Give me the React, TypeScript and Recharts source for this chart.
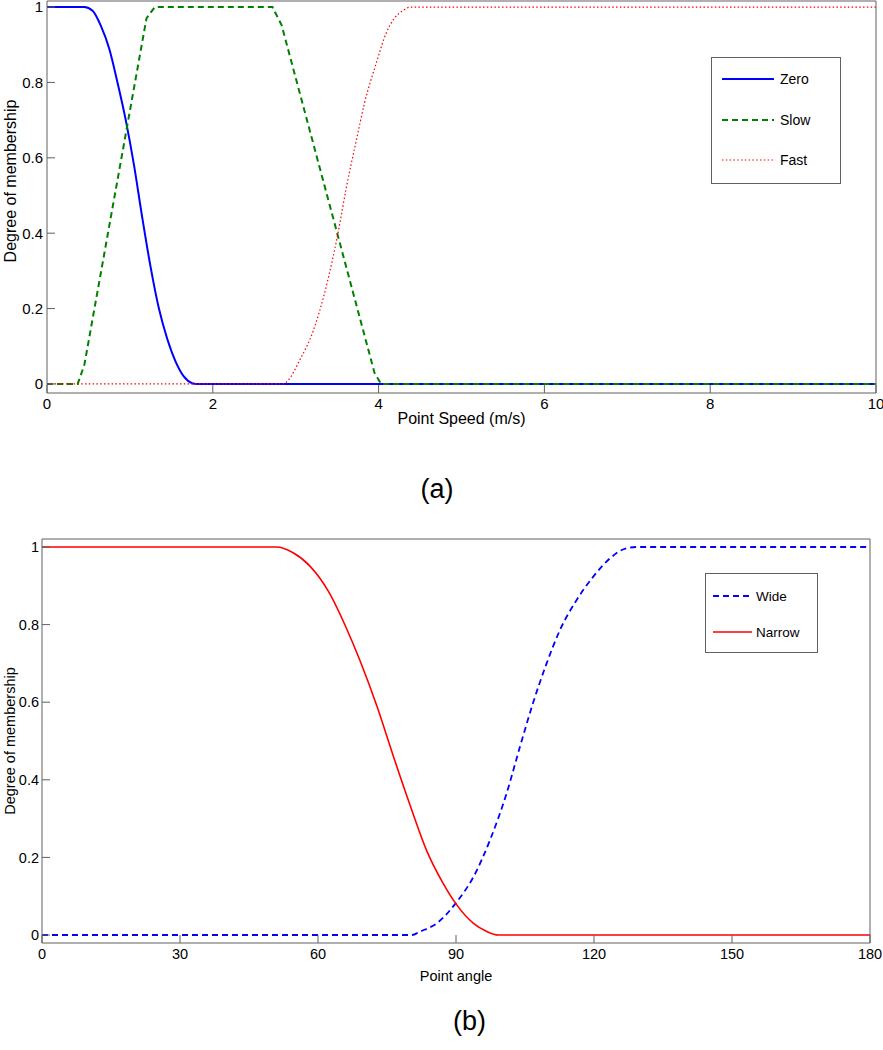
import { LineChart, Line, XAxis, YAxis, Legend } from "recharts";

const speedTicks = [0, 2, 4, 6, 8, 10];
const angleTicks = [0, 30, 60, 90, 120, 150, 180];
const memberTicks = [0, 0.2, 0.4, 0.6, 0.8, 1];

// (a) point speed membership functions, [speed, degree]
const zeroPts: [number, number][] = [
  [0, 1], [0.45, 1], [0.55, 0.99], [0.65, 0.95], [0.75, 0.89], [0.85, 0.8],
  [0.95, 0.7], [1.05, 0.58], [1.15, 0.44], [1.25, 0.31], [1.35, 0.2],
  [1.45, 0.12], [1.55, 0.06], [1.65, 0.02], [1.75, 0.002], [1.8, 0], [10, 0],
];
const slowPts: [number, number][] = [
  [0, 0], [0.37, 0], [0.45, 0.05], [1.2, 0.97], [1.3, 1], [2.72, 1],
  [2.83, 0.952], [3.95, 0.03], [4.03, 0], [10, 0],
];
const fastPts: [number, number][] = [
  [0, 0], [2.85, 0], [2.91, 0.01], [3.05, 0.064], [3.21, 0.14], [3.37, 0.26],
  [3.51, 0.4], [3.61, 0.52], [3.73, 0.645], [3.83, 0.745], [3.97, 0.85],
  [4.09, 0.93], [4.19, 0.97], [4.29, 0.99], [4.39, 1], [10, 1],
];

// (b) point angle membership functions, [angle, degree]
const widePts: [number, number][] = [
  [0, 0], [80.4, 0], [82.2, 0.009], [85.8, 0.03], [90.2, 0.086], [93.8, 0.15],
  [97.4, 0.245], [101, 0.365], [103.9, 0.485], [106.8, 0.6], [109.7, 0.7],
  [112.6, 0.786], [116.2, 0.863], [119.8, 0.923], [123.5, 0.971],
  [127.1, 0.997], [129.3, 1], [180, 1],
];
const narrowPts: [number, number][] = [
  [0, 1], [51, 1], [54.6, 0.985], [58.3, 0.95], [62.3, 0.885], [66.2, 0.79],
  [69.1, 0.708], [72.8, 0.59], [76.4, 0.46], [80, 0.335], [83.6, 0.218],
  [87.2, 0.133], [90.2, 0.077], [93.8, 0.03], [96.7, 0.009], [99.2, 0], [180, 0],
];

const rows = (pts: [number, number][]) => pts.map(([x, y]) => ({ x, y }));

const FONT = '"Liberation Sans", Arial, sans-serif';
const FRAME = "#606060";

type Item = { label: string; color: string; dash?: string; width: number };

const speedItems: Item[] = [
  { label: "Zero", color: "#0000ff", width: 2 },
  { label: "Slow", color: "#008000", dash: "6 4", width: 2 },
  { label: "Fast", color: "#ff0000", dash: "1.5 2.3", width: 1.2 },
];
const angleItems: Item[] = [
  { label: "Wide", color: "#0000ff", dash: "6 4", width: 1.8 },
  { label: "Narrow", color: "#ff0000", width: 1.6 },
];

function BoxLegend({ items, width, height, rowH, padTop, lineLeft, lineLen, gap, fontSize }: {
  items: Item[]; width: number; height: number; rowH: number; padTop: number;
  lineLeft: number; lineLen: number; gap: number; fontSize: number;
}) {
  return (
    <div style={{
      boxSizing: "border-box", width, height, border: `1px solid ${FRAME}`, background: "#fff",
      paddingTop: padTop, fontFamily: FONT, fontSize, color: "#000",
    }}>
      {items.map((it) => (
        <div key={it.label} style={{ display: "flex", alignItems: "center", height: rowH, paddingLeft: lineLeft }}>
          <svg width={lineLen} height={4} style={{ display: "block" }}>
            <line x1={0} y1={2} x2={lineLen} y2={2} stroke={it.color} strokeWidth={it.width} strokeDasharray={it.dash} />
          </svg>
          <span style={{ marginLeft: gap }}>{it.label}</span>
        </div>
      ))}
    </div>
  );
}

function yLabel(centerY: number, size: number) {
  return (props: any) => {
    const vb = props.viewBox || {};
    const cy = centerY || vb.y + vb.height / 2;
    return (
      <text x={10} y={cy} transform={`rotate(-90 10 ${cy})`} textAnchor="middle" dominantBaseline="central"
        fontFamily={FONT} fontSize={size} fill="#000">
        Degree of membership
      </text>
    );
  };
}

function xLabel(text: string, y: number, size: number) {
  return (props: any) => {
    const vb = props.viewBox || {};
    return (
      <text x={vb.x + vb.width / 2} y={y} textAnchor="middle" fontFamily={FONT} fontSize={size} fill="#000">
        {text}
      </text>
    );
  };
}

const tickStyle = (size: number) => ({ fill: "#000", fontFamily: FONT, fontSize: size });

function SpeedChart() {
  return (
    <LineChart width={883} height={440} margin={{ top: 0, right: 6, bottom: 0, left: 0 }}>
      <XAxis xAxisId="b" dataKey="x" type="number" domain={[0, 10]} ticks={speedTicks} interval={0}
        allowDataOverflow height={47} tickSize={-8} tickMargin={13} stroke={FRAME} tick={tickStyle(15)}
        label={xLabel("Point Speed (m/s)", 424, 16)} />
      <XAxis xAxisId="t" orientation="top" type="number" domain={[0, 10]} ticks={speedTicks} interval={0}
        allowDataOverflow height={1} tickSize={-8} tick={false} stroke={FRAME} />
      <YAxis yAxisId="l" type="number" domain={[-0.024, 1.016]} ticks={memberTicks} interval={0}
        allowDataOverflow width={47} tickSize={-8} tickMargin={12} stroke={FRAME} tick={tickStyle(15)}
        label={yLabel(181, 16)} />
      <YAxis yAxisId="r" orientation="right" type="number" domain={[-0.024, 1.016]} ticks={memberTicks}
        interval={0} allowDataOverflow width={1} tickSize={-8} tick={false} stroke={FRAME} />
      <Line xAxisId="b" yAxisId="l" data={rows(zeroPts)} dataKey="y" type="monotone" dot={false}
        stroke={speedItems[0].color} strokeWidth={speedItems[0].width} isAnimationActive={false} />
      <Line xAxisId="b" yAxisId="l" data={rows(slowPts)} dataKey="y" type="linear" dot={false}
        stroke={speedItems[1].color} strokeWidth={speedItems[1].width} strokeDasharray={speedItems[1].dash}
        isAnimationActive={false} />
      <Line xAxisId="b" yAxisId="l" data={rows(fastPts)} dataKey="y" type="monotone" dot={false}
        stroke={speedItems[2].color} strokeWidth={speedItems[2].width} strokeDasharray={speedItems[2].dash}
        isAnimationActive={false} />
      <Legend layout="vertical" align="center" verticalAlign="middle"
        wrapperStyle={{ left: 711, top: 57, width: "auto", height: "auto" }}
        content={() => (
          <BoxLegend items={speedItems} width={130} height={127} rowH={40.5} padTop={1}
            lineLeft={10} lineLen={52} gap={6} fontSize={14} />
        )} />
    </LineChart>
  );
}

function AngleChart() {
  return (
    <LineChart width={883} height={455} margin={{ top: 0, right: 12, bottom: 0, left: 0 }}>
      <XAxis xAxisId="b" dataKey="x" type="number" domain={[0, 180]} ticks={angleTicks} interval={0}
        allowDataOverflow height={50} tickSize={-8} tickMargin={14} stroke={FRAME} tick={tickStyle(14.5)}
        label={xLabel("Point angle", 443, 14.5)} />
      <XAxis xAxisId="t" orientation="top" type="number" domain={[0, 180]} ticks={angleTicks} interval={0}
        allowDataOverflow height={1} tickSize={-8} tick={false} stroke={FRAME} />
      <YAxis yAxisId="l" type="number" domain={[-0.0206, 1.0206]} ticks={memberTicks} interval={0}
        allowDataOverflow width={42} tickSize={-8} tickMargin={11} stroke={FRAME} tick={tickStyle(14.5)}
        label={yLabel(0, 14.5)} />
      <YAxis yAxisId="r" orientation="right" type="number" domain={[-0.0206, 1.0206]} ticks={memberTicks}
        interval={0} allowDataOverflow width={1} tickSize={-8} tick={false} stroke={FRAME} />
      <Line xAxisId="b" yAxisId="l" data={rows(widePts)} dataKey="y" type="monotone" dot={false}
        stroke={angleItems[0].color} strokeWidth={angleItems[0].width} strokeDasharray={angleItems[0].dash}
        isAnimationActive={false} />
      <Line xAxisId="b" yAxisId="l" data={rows(narrowPts)} dataKey="y" type="monotone" dot={false}
        stroke={angleItems[1].color} strokeWidth={angleItems[1].width} isAnimationActive={false} />
      <Legend layout="vertical" align="center" verticalAlign="middle"
        wrapperStyle={{ left: 705, top: 35, width: "auto", height: "auto" }}
        content={() => (
          <BoxLegend items={angleItems} width={113} height={80} rowH={36} padTop={4}
            lineLeft={7} lineLen={39} gap={4} fontSize={13.5} />
        )} />
    </LineChart>
  );
}

export default function App() {
  return (
    <div style={{ position: "absolute", left: 0, top: 0, width: 883, height: 1050, background: "#fff" }}>
      <div style={{ position: "absolute", left: 0, top: 0 }}>
        <SpeedChart />
      </div>
      <div style={{ position: "absolute", left: 0, top: 474, width: 883, textAlign: "center", fontFamily: FONT, fontSize: 27, lineHeight: "30px" }}>
        <span style={{ marginLeft: -9 }}>(a)</span>
      </div>
      <div style={{ position: "absolute", left: 0, top: 538 }}>
        <AngleChart />
      </div>
      <div style={{ position: "absolute", left: 0, top: 1006, width: 883, textAlign: "center", fontFamily: FONT, fontSize: 27, lineHeight: "30px" }}>
        <span style={{ marginLeft: 56 }}>(b)</span>
      </div>
    </div>
  );
}
